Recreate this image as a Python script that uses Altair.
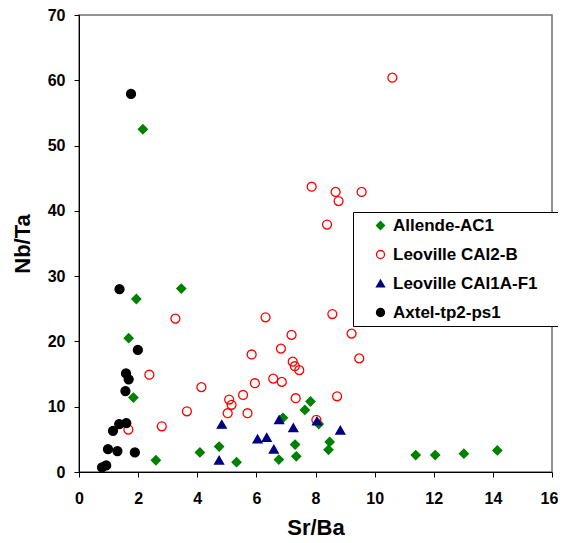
import altair as alt
import pandas as pd

series_names = ["Allende-AC1", "Leoville CAI2-B", "Leoville CAI1A-F1", "Axtel-tp2-ps1"]

allende_x = [2.16, 3.46, 1.94, 1.68, 1.84, 2.6, 4.09, 4.74, 5.33, 6.90, 6.76, 7.31, 7.35, 7.64,
             7.83, 8.11, 8.48, 8.44, 11.39, 12.05, 13.02, 14.15]
allende_y = [52.5, 28.1, 26.5, 20.5, 11.4, 1.8, 3.0, 3.9, 1.5, 8.3, 1.9, 4.2, 2.4, 9.5,
             10.8, 7.35, 4.6, 3.4, 2.6, 2.6, 2.8, 3.3]

leo2b_x = [10.6, 7.87, 8.68, 9.56, 8.78, 8.39, 8.57, 6.31, 3.26, 9.22, 7.19, 6.83, 5.84, 9.48,
           7.23, 7.30, 7.45, 2.38, 6.57, 6.86, 5.95, 4.14, 5.55, 8.73, 7.33, 5.08, 5.16, 3.65,
           5.03, 5.70, 8.03, 2.80, 1.67]
leo2b_y = [60.4, 43.7, 42.9, 42.9, 41.5, 37.9, 24.2, 23.7, 23.5, 21.2, 21.0, 18.9, 18.0, 17.4,
           16.9, 16.2, 15.6, 14.9, 14.3, 13.8, 13.6, 13.0, 11.8, 11.6, 11.3, 11.1, 10.3, 9.3,
           9.0, 9.0, 8.0, 7.0, 6.5]

leo1a_x = [4.83, 4.74, 6.04, 6.35, 6.59, 6.77, 7.25, 8.05, 8.84]
leo1a_y = [7.3, 1.8, 5.05, 5.3, 3.5, 8.0, 6.8, 7.8, 6.4]

axtel_x = [1.76, 1.37, 1.99, 1.59, 1.68, 1.57, 1.36, 1.60, 1.15, 0.98, 1.30, 1.89, 0.78, 0.92]
axtel_y = [57.9, 28.0, 18.7, 15.1, 14.2, 12.4, 7.35, 7.5, 6.3, 3.5, 3.2, 3.0, 0.7, 1.0]

x_ticks = [0, 2, 4, 6, 8, 10, 12, 14, 16]
y_ticks = [0, 10, 20, 30, 40, 50, 60, 70]

rows = []
for name, xs, ys in zip(series_names,
                        [allende_x, leo2b_x, leo1a_x, axtel_x],
                        [allende_y, leo2b_y, leo1a_y, axtel_y]):
    for a, b in zip(xs, ys):
        rows.append({"series": name, "SrBa": a, "NbTa": b, "order": series_names.index(name)})
df = pd.DataFrame(rows)

FONT = "Liberation Sans"

stroke_colors = ["#008000", "#FF0000", "#000080", "#000000"]
fill_colors = ["#008000", "transparent", "#000080", "#000000"]
shapes = ["diamond", "circle", "triangle-up", "circle"]

legend = alt.Legend(
    title=".", titleOrient="right", titleOpacity=0, titleFontSize=4, titlePadding=19,
    orient="none", legendX=274, legendY=197,
    fillColor="white", strokeColor="black", padding=5,
    symbolOffset=14, labelOffset=4, rowPadding=11,
    labelFont=FONT, labelFontSize=17, labelFontWeight="bold", labelColor="black",
    symbolSize=64, symbolStrokeWidth=1.3, labelLimit=300,
)

chart = alt.Chart(df).mark_point(size=80, strokeWidth=1.3, opacity=1).encode(
    x=alt.X("SrBa:Q", title="Sr/Ba",
            scale=alt.Scale(domain=[0, 16], nice=False, zero=False),
            axis=alt.Axis(values=x_ticks, labelFlush=False,
                          labelOffset={"condition": {"test": "datum.value == 16", "value": -3}, "value": 0})),
    y=alt.Y("NbTa:Q", title="Nb/Ta",
            scale=alt.Scale(domain=[0, 70], nice=False, zero=False),
            axis=alt.Axis(values=y_ticks, labelFlush=False)),
    color=alt.Color("series:N", scale=alt.Scale(domain=series_names, range=stroke_colors), legend=legend),
    fill=alt.Fill("series:N", scale=alt.Scale(domain=series_names, range=fill_colors), legend=legend),
    shape=alt.Shape("series:N", scale=alt.Scale(domain=series_names, range=shapes), legend=legend),
    order=alt.Order("order:Q"),
).properties(
    width=473, height=457,
    autosize=alt.AutoSizeParams(type="none"),
    padding={"left": 71, "top": 7, "right": 6, "bottom": 70},
).configure_view(
    stroke="#707070", strokeWidth=1.5
).configure_axis(
    grid=False, domainColor="black", domainWidth=1, tickColor="black", tickSize=5,
    labelFont=FONT, labelFontSize=16, labelFontWeight="bold", labelColor="black",
    titleFont=FONT, titleFontSize=22, titleFontWeight="bold", titleColor="black",
).configure_axisX(
    labelPadding=13, titlePadding=11
).configure_axisY(
    labelPadding=9, titlePadding=13
)

chart.save("out.html", embed_options={"renderer": "svg", "actions": False})
